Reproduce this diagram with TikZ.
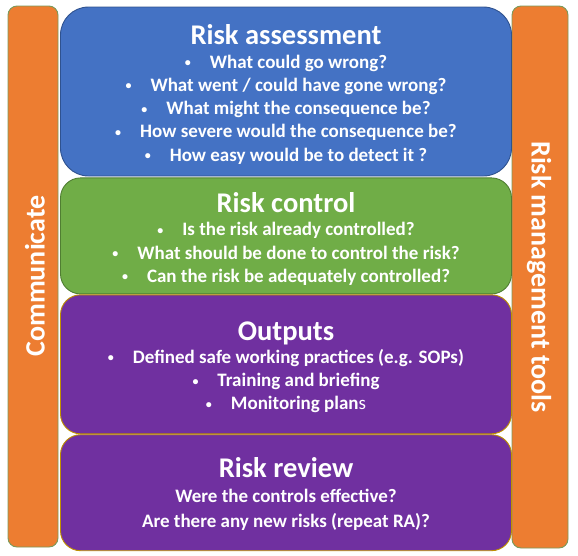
\documentclass[tikz,border=0pt]{standalone}
\usepackage{fontspec}
\setmainfont{Carlito}
\usetikzlibrary{positioning}

\definecolor{raBlue}{HTML}{4472C4}
\definecolor{raBlueLine}{HTML}{2F528F}
\definecolor{raGreen}{HTML}{70AD47}
\definecolor{raGreenLine}{HTML}{507E32}
\definecolor{raPurple}{HTML}{7030A0}
\definecolor{raPurpleLine}{HTML}{BF9000}
\definecolor{raOrange}{HTML}{ED7D31}
\definecolor{raOrangeLine}{HTML}{7A9A5A}

\newcommand{\bul}{\raisebox{1.6pt}{\fontsize{12}{12}\selectfont\textbullet}\hspace{19pt}}
\newcommand{\boxtitle}[1]{{\fontsize{28.5}{32}\selectfont #1}}

\begin{document}
\begin{tikzpicture}[x=1pt, y=-1pt,
	every node/.style={font=\bfseries\fontsize{19}{23.3}\selectfont, text=white, inner sep=0pt},
	stage/.style={draw, line width=0.9pt, rounded corners=20pt, minimum width=451pt},
	stagetext/.style={align=center, yshift=-3pt},
	sidebar/.style={draw=raOrangeLine, fill=raOrange, line width=0.9pt, rounded corners=9pt},
	sidelabel/.style={font=\bfseries\fontsize{28}{32}\selectfont}]
	\useasboundingbox (0,0) rectangle (578,555);
	\node[sidebar, minimum width=50pt, minimum height=541pt] (comm) at (33,276.5) {};
	\node[sidebar, minimum width=56pt, minimum height=542pt] (tools) at (540,277) {};
	\node[sidelabel, rotate=90] (commtext) at (35,276) {Communicate};
	\node[sidelabel, rotate=-90] (toolstext) at (539,277) {Risk management tools};
	\node[stage, fill=raBlue, draw=raBlueLine, rounded corners=28pt, minimum height=169pt] (assess) at (286,91.5) {};
	\node[stage, fill=raGreen, draw=raGreenLine, minimum height=116pt, below=1pt of assess] (control) {};
	\node[stage, fill=raPurple, draw=raPurpleLine, minimum height=139pt, below=0pt of control] (outputs) {};
	\node[stage, fill=raPurple, draw=raPurpleLine, minimum height=116pt, below=0pt of outputs] (review) {};
	\node[stagetext] (assesstext) at (assess) {\boxtitle{Risk assessment}\\[0pt]
		\bul What could go wrong?\\
		\bul What went / could have gone wrong?\\
		\bul What might the consequence be?\\
		\bul How severe would the consequence be?\\
		\bul How easy would be to detect it ?};
	\node[stagetext] (controltext) at (control) {\boxtitle{Risk control}\\[0pt]
		\bul Is the risk already controlled?\\
		\bul What should be done to control the risk?\\
		\bul Can the risk be adequately controlled?};
	\node[stagetext] (outputstext) at (outputs) {\boxtitle{Outputs}\\[0pt]
		\bul Defined safe working practices (e.g. SOPs)\\
		\bul Training and briefing\\
		\bul Monitoring plan{\mdseries s}};
	\node[stagetext, yshift=2pt] (reviewtext) at (review) {\boxtitle{Risk review}\\[2pt]
		Were the controls effective?\\[1.5pt]
		Are there any new risks (repeat RA)?};
\end{tikzpicture}
\end{document}
